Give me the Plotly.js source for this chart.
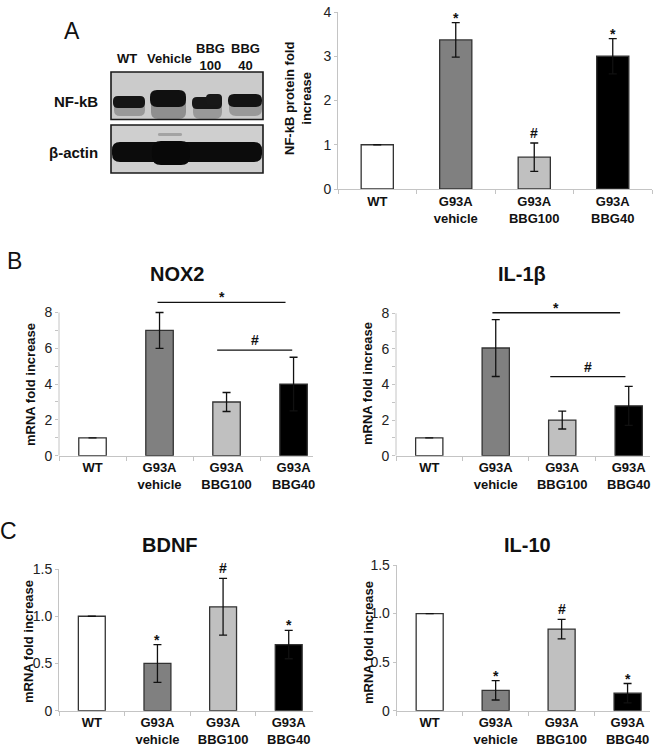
<!DOCTYPE html>
<html>
<head>
<meta charset="utf-8">
<script src="https://cdn.plot.ly/plotly-3.0.1.min.js"></script>
<style>html,body{margin:0;padding:0;background:#fff;}#chart{width:663px;height:756px;}</style>
</head>
<body>
<div id="chart"></div>
<script>
// ---------------- DATA ----------------
const categories = ['WT', 'G93A<br>vehicle', 'G93A<br>BBG100', 'G93A<br>BBG40'];
const barColors = ['#ffffff', '#808080', '#c0c0c0', '#000000'];

const nfkbMean = [1.0, 3.37, 0.72, 3.0];
const nfkbErr  = [null, 0.39, 0.32, 0.40];
const nfkbSig  = ['', '*', '#', '*'];

const nox2Mean = [1.0, 7.0, 3.0, 4.0];
const nox2Err  = [null, 1.0, 0.53, 1.5];
const nox2Brackets = [ {from: 0.97, to: 2.88, level: 8.57, label: '*'},
                       {from: 1.86, to: 2.98, level: 5.9,  label: '#'} ];

const il1bMean = [1.0, 6.05, 2.0, 2.8];
const il1bErr  = [null, 1.6, 0.5, 1.1];
const il1bBrackets = [ {from: 0.95, to: 2.87, level: 8.03, label: '*'},
                       {from: 1.82, to: 2.95, level: 4.44, label: '#'} ];

const bdnfMean = [1.0, 0.5, 1.1, 0.7];
const bdnfErr  = [null, 0.2, 0.3, 0.15];
const bdnfSig  = ['', '*', '#', '*'];

const il10Mean = [1.0, 0.21, 0.84, 0.18];
const il10Err  = [null, 0.1, 0.1, 0.1];
const il10Sig  = ['', '*', '#', '*'];

const nfkbTicks = [0, 1, 2, 3, 4];
const nfkbTickText = ['0', '1', '2', '3', '4'];
const mrnaTicks = [0, 1, 2, 3, 4, 5, 6, 7, 8];
const mrnaTickText = ['0', '', '2', '', '4', '', '6', '', '8'];
const foldTicks = [0, 0.5, 1.0, 1.5];
const foldTickText = ['0', '0.5', '1.0', '1.5'];

// ---------------- HELPERS ----------------
const W = 663, H = 756;
const px = x => x / W;
const py = y => 1 - y / H;
const FONT = 'Liberation Sans, Arial, sans-serif';
const AXC = '#c4c4c4';

function barTrace(means, errs, n) {
  return {
    type: 'bar', x: categories, y: means,
    xaxis: 'x' + (n === 1 ? '' : n), yaxis: 'y' + (n === 1 ? '' : n),
    width: 0.41,
    marker: {color: barColors, line: {color: '#333333', width: 1.3}},
    error_y: {type: 'data', array: errs, visible: true, color: '#111', thickness: 1.3, width: 4},
    hoverinfo: 'skip', showlegend: false
  };
}

function xAxis(domain, rmax, anchor) {
  return {
    domain: domain, anchor: anchor, type: 'category', range: [-0.5, rmax],
    showline: true, linecolor: AXC, linewidth: 1, ticks: 'outside', tickson: 'boundaries',
    ticklen: 4, tickcolor: AXC, showgrid: false, zeroline: false, fixedrange: true,
    tickfont: {family: FONT, size: 13, color: '#111', weight: 'bold'}
  };
}
function yAxis(domain, range, tv, tt, anchor, showline) {
  return {
    domain: domain, anchor: anchor, range: range, showline: showline, linecolor: AXC, linewidth: 1,
    ticks: 'outside', ticklen: 3, tickcolor: AXC, tickvals: tv, ticktext: tt,
    showgrid: false, zeroline: false, fixedrange: true,
    tickfont: {family: FONT, size: 14, color: '#222'}
  };
}

function rr(x0, y0, x1, y1, r) {
  const P = (x, y) => px(x).toFixed(5) + ',' + py(y).toFixed(5);
  return 'M' + P(x0 + r, y0) + ' L' + P(x1 - r, y0) + ' Q' + P(x1, y0) + ' ' + P(x1, y0 + r) +
         ' L' + P(x1, y1 - r) + ' Q' + P(x1, y1) + ' ' + P(x1 - r, y1) +
         ' L' + P(x0 + r, y1) + ' Q' + P(x0, y1) + ' ' + P(x0, y1 - r) +
         ' L' + P(x0, y0 + r) + ' Q' + P(x0, y0) + ' ' + P(x0 + r, y0) + ' Z';
}

// ---------------- TRACES ----------------
const data = [
  barTrace(nfkbMean, nfkbErr, 1),
  barTrace(nox2Mean, nox2Err, 2),
  barTrace(il1bMean, il1bErr, 3),
  barTrace(bdnfMean, bdnfErr, 4),
  barTrace(il10Mean, il10Err, 5)
];

// ---------------- SHAPES ----------------
const shapes = [];
shapes.push({type: 'line', xref: 'paper', yref: 'y2', x0: px(59), x1: px(59), y0: 0, y1: 8, line: {color: AXC, width: 1}});
shapes.push({type: 'line', xref: 'paper', yref: 'y3', x0: px(396), x1: px(396), y0: 0, y1: 8, line: {color: AXC, width: 1}});

function addBrackets(list, n) {
  list.forEach(b => {
    shapes.push({type: 'line', xref: 'x' + n, yref: 'y' + n, x0: b.from, x1: b.to, y0: b.level, y1: b.level,
                 line: {color: '#111', width: 1.3}});
  });
}
addBrackets(nox2Brackets, 2);
addBrackets(il1bBrackets, 3);

// Western blot (decorative approximation of the photograph)
const blot = [];
blot.push({type: 'rect', xref: 'paper', yref: 'paper', x0: px(111), x1: px(263), y0: py(119.5), y1: py(72),
           fillcolor: '#cbcbcb', line: {color: '#1a1a1a', width: 1.6}});
blot.push({type: 'rect', xref: 'paper', yref: 'paper', x0: px(111), x1: px(263), y0: py(173), y1: py(125),
           fillcolor: '#cfcfcf', line: {color: '#1a1a1a', width: 1.6}});
const blotPaths = [
  // diffuse tails below the NF-kB bands
  [114, 100, 145, 116, 6, 'rgba(70,70,70,0.38)'],
  [151, 96, 186, 119, 7, 'rgba(60,60,60,0.42)'],
  [193, 99, 222, 119, 7, 'rgba(70,70,70,0.38)'],
  [229, 99, 262, 116, 7, 'rgba(70,70,70,0.38)'],
  // NF-kB bands
  [113, 96, 145, 108, 5, '#151515'],
  [150, 90, 186, 107, 7, '#101010'],
  [192, 97, 222, 109, 5, '#171717'],
  [206, 94, 222, 105, 4, '#181818'],
  [228, 94, 262, 107, 6, '#131313'],
  // faint smudge in vehicle lane
  [158, 133, 182, 136, 1.5, 'rgba(80,80,80,0.35)'],
  // beta-actin bands
  [112, 142, 262, 162, 8, '#0c0c0c'],
  [152, 141, 190, 165, 9, '#080808']
];
blotPaths.forEach(b => blot.push({type: 'path', xref: 'paper', yref: 'paper', path: rr(b[0], b[1], b[2], b[3], b[4]),
                                  fillcolor: b[5], line: {width: 0}}));

// ---------------- ANNOTATIONS ----------------
const annotations = [];
function txt(x, y, text, size, bold, extra) {
  annotations.push(Object.assign({xref: 'paper', yref: 'paper', x: px(x), y: py(y), text: text, showarrow: false,
    xanchor: 'center', yanchor: 'middle', font: {family: FONT, size: size, color: '#111', weight: bold ? 'bold' : 'normal'}}, extra || {}));
}
txt(72, 31, 'A', 23, false);
txt(14, 261, 'B', 23, false);
txt(8, 531, 'C', 23, false);
txt(177, 274, 'NOX2', 20, true);
txt(522, 274, 'IL-1β', 20, true);
txt(170, 545, 'BDNF', 20, true);
txt(527, 545, 'IL-10', 20, true);
txt(298, 99, 'NF-kB protein fold<br>increase', 13, true, {textangle: -90});
txt(30, 385, 'mRNA fold increase', 13, true, {textangle: -90});
txt(367, 384, 'mRNA fold increase', 13, true, {textangle: -90});
txt(28, 642, 'mRNA fold increase', 13, true, {textangle: -90});
txt(368, 643, 'mRNA fold increase', 13, true, {textangle: -90});
txt(127, 58, 'WT', 13, true);
txt(169, 58, 'Vehicle', 13, true);
txt(210, 57, 'BBG<br>100', 13, true);
txt(245, 57, 'BBG<br>40', 13, true);
txt(100, 102, 'NF-kB', 15, true, {xanchor: 'right'});
txt(100, 152, 'β-actin', 15, true, {xanchor: 'right'});

const SIGFONT = {family: FONT, size: 14, color: '#111', weight: 'bold'};
function addSig(means, errs, sig, n) {
  sig.forEach((s, i) => {
    if (!s) return;
    annotations.push({xref: 'x' + (n === 1 ? '' : n), yref: 'y' + (n === 1 ? '' : n), x: i, y: means[i] + (errs[i] || 0),
      text: s, showarrow: false, xanchor: 'center', yanchor: 'bottom', yshift: s === '*' ? -5 : 0, font: SIGFONT});
  });
}
addSig(nfkbMean, nfkbErr, nfkbSig, 1);
addSig(bdnfMean, bdnfErr, bdnfSig, 4);
addSig(il10Mean, il10Err, il10Sig, 5);
function addBracketLabels(list, n) {
  list.forEach(b => annotations.push({xref: 'x' + n, yref: 'y' + n, x: (b.from + b.to) / 2, y: b.level,
    text: b.label, showarrow: false, xanchor: 'center', yanchor: 'bottom', yshift: b.label === '*' ? -5 : 0, font: SIGFONT}));
}
addBracketLabels(nox2Brackets, 2);
addBracketLabels(il1bBrackets, 3);

// ---------------- LAYOUT ----------------
const layout = {
  width: W, height: H, margin: {l: 0, r: 0, t: 0, b: 0},
  paper_bgcolor: '#ffffff', plot_bgcolor: 'rgba(0,0,0,0)', showlegend: false, bargap: 0,
  font: {family: FONT, color: '#111'},
  xaxis:  xAxis([px(338), px(652)], 3.5, 'y'),
  yaxis:  yAxis([py(189), py(12)], [0, 4], nfkbTicks, nfkbTickText, 'x', true),
  xaxis2: xAxis([px(59), px(313)], 3.29, 'y2'),
  yaxis2: yAxis([py(455.7), py(291)], [0, 9.2], mrnaTicks, mrnaTickText, 'x2', false),
  xaxis3: xAxis([px(396), px(650)], 3.32, 'y3'),
  yaxis3: yAxis([py(455.7), py(295.5)], [0, 9], mrnaTicks, mrnaTickText, 'x3', false),
  xaxis4: xAxis([px(59), px(313)], 3.37, 'y4'),
  yaxis4: yAxis([py(710.7), py(569)], [0, 1.5], foldTicks, foldTickText, 'x4', true),
  xaxis5: xAxis([px(396.7), px(650)], 3.34, 'y5'),
  yaxis5: yAxis([py(710.7), py(565)], [0, 1.5], foldTicks, foldTickText, 'x5', true),
  shapes: shapes.concat(blot),
  annotations: annotations
};

Plotly.newPlot('chart', data, layout, {staticPlot: true, displayModeBar: false});
</script>
</body>
</html>
